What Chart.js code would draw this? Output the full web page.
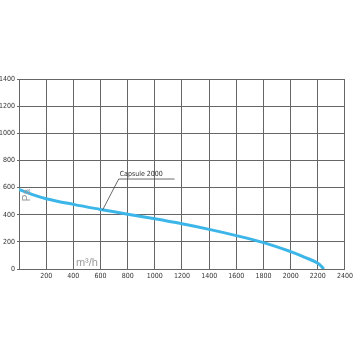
<!DOCTYPE html>
<html>
<head>
<meta charset="utf-8">
<script src="https://cdn.jsdelivr.net/npm/chart.js@4.4.0/dist/chart.umd.min.js"></script>
<style>
html,body{margin:0;padding:0;background:#fff;}
#wrap{width:356px;height:356px;position:relative;}
</style>
</head>
<body>
<div id="wrap"><canvas id="c" width="356" height="356"></canvas></div>
<script>
const flowValues = [0, 100, 200, 400, 600, 800, 1000, 1200, 1400, 1600, 1800, 2000, 2100, 2200, 2245];
const pressureValues = [587, 548, 518, 476, 439, 404, 370, 333, 292, 246, 194, 128, 88, 42, 0];
const xTicks = [0, 200, 400, 600, 800, 1000, 1200, 1400, 1600, 1800, 2000, 2200, 2400];
const yTicks = [0, 200, 400, 600, 800, 1000, 1200, 1400];
const seriesName = "Capsule 2000";
const xUnit = "m³/h";
const yUnit = "Pa";
const labelAnchor = [616, 436];   // point on curve (data units)
const labelCorner = [734, 663];   // leader elbow (data units)
const labelEnd = 1145;            // underline end (x, data units)

const points = flowValues.map((x, i) => ({x: x, y: pressureValues[i]}));
const tickFont = {family: "'Liberation Sans Narrow','DejaVu Sans Condensed',sans-serif", size: 7};

const annot = {
  id: 'annot',
  afterDatasetsDraw(chart) {
    const ctx = chart.ctx, xs = chart.scales.x, ys = chart.scales.y;
    ctx.save();
    ctx.strokeStyle = '#444';
    ctx.lineWidth = 0.8;
    ctx.beginPath();
    ctx.moveTo(xs.getPixelForValue(labelAnchor[0]), ys.getPixelForValue(labelAnchor[1]));
    ctx.lineTo(xs.getPixelForValue(labelCorner[0]), ys.getPixelForValue(labelCorner[1]));
    ctx.lineTo(xs.getPixelForValue(labelEnd), ys.getPixelForValue(labelCorner[1]));
    ctx.stroke();
    ctx.fillStyle = '#333';
    ctx.font = "7px 'Liberation Sans Narrow','DejaVu Sans Condensed',sans-serif";
    ctx.textBaseline = 'bottom';
    ctx.textAlign = 'left';
    ctx.fillText(seriesName, xs.getPixelForValue(labelCorner[0]) + 1, ys.getPixelForValue(labelCorner[1]) - 1);
    ctx.fillStyle = '#9a9a9a';
    ctx.font = "11px 'Liberation Sans','DejaVu Sans',sans-serif";
    ctx.textAlign = 'center';
    ctx.textBaseline = 'middle';
    ctx.fillText(xUnit, xs.getPixelForValue(500), ys.getPixelForValue(45));
    ctx.save();
    ctx.translate(xs.getPixelForValue(58), ys.getPixelForValue(545));
    ctx.rotate(-Math.PI / 2);
    ctx.font = "10px 'Liberation Sans','DejaVu Sans',sans-serif";
    ctx.fillText(yUnit, 0, 0);
    ctx.restore();
    ctx.restore();
  }
};

new Chart(document.getElementById('c'), {
  type: 'line',
  data: {
    datasets: [{
      label: seriesName,
      data: points,
      borderColor: '#3cb6e8',
      borderWidth: 3,
      pointRadius: 0,
      fill: false,
      tension: 0.4
    }]
  },
  options: {
    responsive: false,
    animation: false,
    devicePixelRatio: 1,
    layout: {padding: {top: 79, right: 10, left: 0, bottom: 0}},
    plugins: {legend: {display: false}, tooltip: {enabled: false}},
    scales: {
      x: {
        type: 'linear', min: 0, max: 2400,
        afterBuildTicks: s => { s.ticks = xTicks.map(v => ({value: v})); },
        afterFit: s => { s.height = 87; },
        grid: {color: '#666', lineWidth: 1, drawTicks: false},
        border: {color: '#666', width: 1},
        ticks: {
          font: tickFont, color: '#333', padding: 3, maxRotation: 0, autoSkip: false,
          callback: v => v === 0 ? '' : String(v)
        }
      },
      y: {
        type: 'linear', min: 0, max: 1400,
        afterBuildTicks: s => { s.ticks = yTicks.map(v => ({value: v})); },
        afterFit: s => { s.width = 19; },
        grid: {color: '#666', lineWidth: 1, tickLength: 2},
        border: {color: '#666', width: 1},
        ticks: {font: tickFont, color: '#333', padding: 2, autoSkip: false,
          callback: v => String(v)}
      }
    }
  },
  plugins: [annot]
});
</script>
</body>
</html>
